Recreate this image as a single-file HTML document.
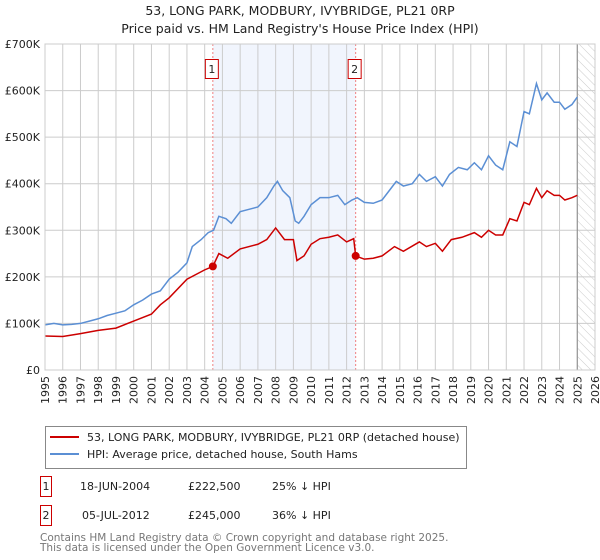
<!DOCTYPE html>
<html><head><meta charset="utf-8"><style>
body{margin:0;background:#fff;font-family:"Liberation Sans","DejaVu Sans",sans-serif;}
#wrap{position:relative;width:600px;height:560px;overflow:hidden}
svg text{font-family:"DejaVu Sans","Liberation Sans",sans-serif}
</style></head><body><div id="wrap">
<svg id="svg" width="600" height="560" xmlns="http://www.w3.org/2000/svg">
<defs><pattern id="hatch" width="6" height="6" patternUnits="userSpaceOnUse" patternTransform="rotate(-45)"><line x1="0" y1="0" x2="0" y2="6" stroke="#ccc" stroke-width="1"/></pattern></defs>
<text x="300" y="15" text-anchor="middle" font-size="12.5" fill="#222">53, LONG PARK, MODBURY, IVYBRIDGE, PL21 0RP</text>
<text x="300" y="33" text-anchor="middle" font-size="12.5" fill="#222">Price paid vs. HM Land Registry's House Price Index (HPI)</text>
<g id="plot"></g>
<g>
<rect x="45.5" y="426.5" width="421" height="42" fill="#fff" stroke="#888"/>
<line x1="50" y1="437" x2="79" y2="437" stroke="#cc0000" stroke-width="2"/>
<text x="87" y="441" font-size="11" fill="#222">53, LONG PARK, MODBURY, IVYBRIDGE, PL21 0RP (detached house)</text>
<line x1="50" y1="454" x2="79" y2="454" stroke="#5b8fd4" stroke-width="2"/>
<text x="87" y="458" font-size="11" fill="#222">HPI: Average price, detached house, South Hams</text>
</g>
<g font-size="11" fill="#222">
<rect x="40.5" y="476.5" width="11" height="20" fill="#fff" stroke="#cc0000"/>
<text x="46" y="490" text-anchor="middle">1</text>
<text x="80" y="490">18-JUN-2004</text>
<text x="188" y="490">£222,500</text>
<text x="272" y="490">25% ↓ HPI</text>
<rect x="40.5" y="505.5" width="11" height="20" fill="#fff" stroke="#cc0000"/>
<text x="46" y="519" text-anchor="middle">2</text>
<text x="82" y="519">05-JUL-2012</text>
<text x="188" y="519">£245,000</text>
<text x="272" y="519">36% ↓ HPI</text>
</g>
<text x="40" y="541" font-size="10.5" fill="#777">Contains HM Land Registry data © Crown copyright and database right 2025.</text>
<text x="40" y="551" font-size="10.5" fill="#777">This data is licensed under the Open Government Licence v3.0.</text>
</svg></div>
<script>
const hpiYears=[1995,1995.5,1996,1996.5,1997,1997.5,1998,1998.5,1999,1999.5,2000,2000.5,2001,2001.5,2002,2002.5,2003,2003.3,2003.8,2004.2,2004.5,2004.8,2005.2,2005.5,2006,2006.5,2007,2007.5,2007.9,2008.1,2008.4,2008.8,2009.1,2009.3,2009.6,2010,2010.5,2011,2011.5,2011.9,2012.3,2012.6,2013,2013.5,2014,2014.5,2014.8,2015.2,2015.7,2016.1,2016.5,2017,2017.4,2017.8,2018.3,2018.8,2019.2,2019.6,2020,2020.4,2020.8,2021.2,2021.6,2022,2022.3,2022.7,2023,2023.3,2023.7,2024,2024.3,2024.7,2025];
const hpiValues=[97,100,97,98,100,105,110,117,122,127,140,150,163,170,195,210,230,265,280,295,300,330,325,315,340,345,350,370,395,405,385,370,320,315,330,355,370,370,375,355,365,370,360,358,365,390,405,395,400,420,405,415,395,420,435,430,445,430,460,440,430,490,480,555,550,615,580,595,575,575,560,570,586];
const priceYears=[1995,1996,1997,1998,1999,2000,2001,2001.5,2002,2003,2004,2004.46,2004.8,2005.3,2006,2007,2007.5,2008,2008.5,2009,2009.2,2009.6,2010,2010.5,2011,2011.5,2012,2012.4,2012.51,2013,2013.5,2014,2014.7,2015.2,2016.1,2016.5,2017,2017.4,2017.9,2018.5,2019.2,2019.6,2020,2020.4,2020.8,2021.2,2021.6,2022,2022.3,2022.7,2023,2023.3,2023.7,2024,2024.3,2024.7,2025];
const priceValues=[73,72,78,85,90,105,120,140,155,195,215,222.5,250,240,260,270,280,305,280,280,235,245,270,282,285,290,275,282,245,238,240,245,265,255,275,265,272,255,280,285,295,285,300,290,290,325,320,360,355,390,370,385,375,375,365,370,375];
const saleYears=[2004.46,2012.51];
const saleValues=[222.5,245];
const saleLabels=["1","2"];
const yTicks=[0,100,200,300,400,500,600,700];
const yTickLabels=["£0","£100K","£200K","£300K","£400K","£500K","£600K","£700K"];
const xTicks=[];for(let y=1995;y<=2026;y++)xTicks.push(y);

const X0=45,X1=595,Y0=370,Y1=44;
const xs=y=>X0+(y-1995)*(X1-X0)/31;
const ys=v=>Y0-v*(Y0-Y1)/700;
const NS="http://www.w3.org/2000/svg";
const plot=document.getElementById('plot');
function mk(tag,attrs,parent){const e=document.createElementNS(NS,tag);for(const k in attrs)e.setAttribute(k,attrs[k]);(parent||plot).appendChild(e);return e;}

const shade=mk('rect',{x:xs(saleYears[0]),y:Y1,width:xs(saleYears[1])-xs(saleYears[0]),height:Y0-Y1,fill:'#eef3fd',opacity:0.8});


const hat=mk('rect',{x:xs(2025),y:Y1,width:X1-xs(2025),height:Y0-Y1,fill:'url(#hatch)'});



xTicks.forEach(t=>{
  const l=mk('line',{x1:xs(t),x2:xs(t),y1:Y1,y2:Y0,stroke:'#ccc','stroke-width':1});
  
  
  const tx=mk('text',{x:0,y:0,'font-size':11,fill:'#222','text-anchor':'end',transform:`translate(${xs(t)+4},${Y0+6}) rotate(-90)`});
  tx.textContent=t;
  
  
});
yTicks.forEach((t,i)=>{
  const l=mk('line',{x1:X0,x2:X1,y1:ys(t),y2:ys(t),stroke:'#ccc','stroke-width':1});
  
  
  const tx=mk('text',{x:40,y:ys(t)+4,'font-size':11,fill:'#222','text-anchor':'end'});
  tx.textContent=yTickLabels[i];
  
  
});
const eol=mk('line',{x1:xs(2025),x2:xs(2025),y1:Y1,y2:Y0,stroke:'#888','stroke-width':1});



saleYears.forEach((y,i)=>{
  const l=mk('line',{x1:xs(y),x2:xs(y),y1:Y1,y2:Y0,stroke:'#f08080','stroke-width':1,'stroke-dasharray':'2,2'});
  
  
  const r=mk('rect',{x:xs(y)-7.5,y:59.5,width:13,height:19,fill:'#fff',stroke:'#cc0000'});
  
  
  const t=mk('text',{x:xs(y)-1,y:73,'font-size':11,fill:'#222','text-anchor':'middle'});
  t.textContent=saleLabels[i];
  
  
});

const hp=mk('polyline',{points:hpiYears.map((y,i)=>xs(y)+','+ys(hpiValues[i])).join(' '),fill:'none',stroke:'#5b8fd4','stroke-width':1.5});


const pp=mk('polyline',{points:priceYears.map((y,i)=>xs(y)+','+ys(priceValues[i])).join(' '),fill:'none',stroke:'#cc0000','stroke-width':1.5});


saleYears.forEach((y,i)=>{
  const c=mk('circle',{cx:xs(y),cy:ys(saleValues[i]),r:4,fill:'#cc0000'});
  
  
});
const fr=mk('rect',{x:X0,y:Y1,width:X1-X0,height:Y0-Y1,fill:'none',stroke:'#ccc'});


</script></body></html>
